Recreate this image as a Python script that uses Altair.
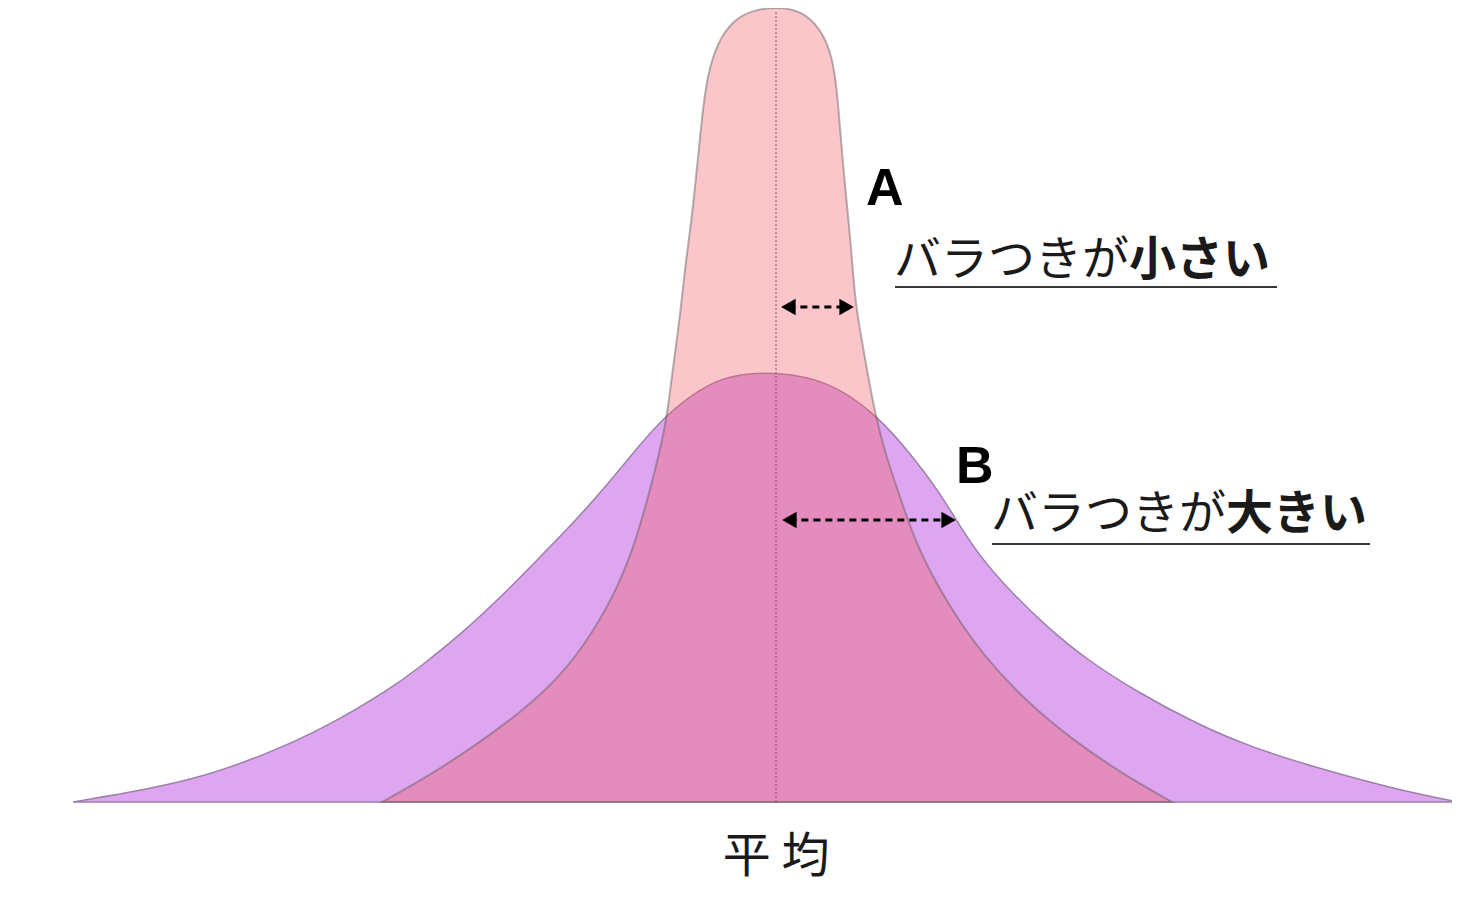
import altair as alt
import pandas as pd

# ---- data (x: offset from the mean, h: height above baseline) ----
# Curve B : large spread
b_x = [-703, -649, -583, -516, -449, -383, -356, -316, -276, -236, -203, -173, -143, -109,
       -66, -36, 0, 51, 99, 134, 164, 180, 204, 236, 271, 311, 363, 419, 474, 548, 623, 682]
b_h = [0, 9, 22, 45, 75, 115, 135, 167, 204, 245, 279, 312, 349, 389,
       420, 428, 430, 422, 389, 349, 309, 282, 245, 209, 175, 142, 109, 79, 55, 32, 12, 0]

# Curve A : small spread
a_x = [-394, -349, -303, -256, -216, -183, -156, -139, -126, -116, -109, -103, -96, -91,
       -84, -79, -74, -69, -59, -43, -23, 0, 24, 44, 57, 62, 67, 74, 79, 84, 91, 99,
       109, 124, 141, 171, 208, 252, 297, 345, 396]
a_h = [0, 25, 55, 89, 125, 169, 219, 265, 312, 352, 385, 435, 485, 535,
       585, 635, 685, 725, 759, 782, 792, 795, 792, 775, 745, 702, 635, 569, 502, 472, 432, 389,
       349, 305, 255, 199, 145, 99, 62, 29, 0]

mean_x = 0
mean_top = 792

# spread arrows: (from, to, height)
arrow_a = [4, 79, 495]
arrow_b = [5, 181, 282]

label_a = "A"
label_b = "B"
text_a = ["バラつきが", "小さい"]
text_b = ["バラつきが", "大きい"]
mean_label = "平 均"

# ---- scales: plot area mapped onto the page ----
OFFX, OFFY = 8, 8
W, H = 1444, 882
xs = alt.Scale(domain=[OFFX - 776, OFFX + W - 776], nice=False, zero=False)
ys = alt.Scale(domain=[802 - (OFFY + H), 802 - OFFY], nice=False, zero=False)

dfB = pd.DataFrame({"x": b_x, "h": b_h})
dfA = pd.DataFrame({"x": a_x, "h": a_h})

curveB = alt.Chart(dfB).mark_area(
    interpolate="basis", color="#dea6f0", stroke="#9a82a6", strokeWidth=1.5
).encode(
    x=alt.X("x:Q", scale=xs, axis=None),
    y=alt.Y("h:Q", scale=ys, axis=None),
    y2=alt.datum(0),
)

curveA = alt.Chart(dfA).mark_area(
    interpolate="basis", fill="#f45c65", fillOpacity=0.35,
    stroke="#5a5a5a", strokeOpacity=0.45, strokeWidth=2
).encode(
    x=alt.X("x:Q", scale=xs, axis=None),
    y=alt.Y("h:Q", scale=ys, axis=None),
    y2=alt.datum(0),
)

dfMean = pd.DataFrame({"x": [mean_x], "h0": [0], "h1": [mean_top]})
meanline = alt.Chart(dfMean).mark_rule(
    color="#8e4a63", strokeWidth=1, strokeDash=[2, 2]
).encode(
    x=alt.X("x:Q", scale=xs, axis=None),
    y=alt.Y("h0:Q", scale=ys, axis=None),
    y2="h1:Q",
)

HSIZE = 280
HEAD = HSIZE ** 0.5 / 2  # distance from head centre to tip (px)
dfArr = pd.DataFrame({
    "x0": [arrow_a[0], arrow_b[0]],
    "x1": [arrow_a[1], arrow_b[1]],
    "h": [arrow_a[2], arrow_b[2]],
})
dfArr["s0"] = dfArr["x0"] + HEAD
dfArr["s1"] = dfArr["x1"] - HEAD

shafts = alt.Chart(dfArr).mark_rule(
    color="#000000", strokeWidth=3, strokeDash=[7, 5]
).encode(
    x=alt.X("s0:Q", scale=xs, axis=None),
    x2="s1:Q",
    y=alt.Y("h:Q", scale=ys, axis=None),
)
headL = alt.Chart(dfArr).mark_point(
    shape="triangle-left", filled=True, color="#000000", size=HSIZE, opacity=1
).encode(
    x=alt.X("s0:Q", scale=xs, axis=None),
    y=alt.Y("h:Q", scale=ys, axis=None),
)
headR = alt.Chart(dfArr).mark_point(
    shape="triangle-right", filled=True, color="#000000", size=HSIZE, opacity=1
).encode(
    x=alt.X("s1:Q", scale=xs, axis=None),
    y=alt.Y("h:Q", scale=ys, axis=None),
)

JP = "Noto Sans CJK JP"
FS = 47


def txt(s, px, py, size, weight="normal", font=JP, align="left", color="#1a1a1a"):
    return alt.Chart(pd.DataFrame({"t": [s]})).mark_text(
        text=s, font=font, fontSize=size, fontWeight=weight, align=align,
        baseline="alphabetic", color=color
    ).encode(x=alt.value(px - OFFX), y=alt.value(py - OFFY))


def uline(px0, px1, py):
    return alt.Chart(pd.DataFrame({"t": [0]})).mark_rule(
        color="#3a3a3a", strokeWidth=2
    ).encode(x=alt.value(px0 - OFFX), x2=alt.value(px1 - OFFX), y=alt.value(py - OFFY))


texts = [
    txt(label_a, 866, 205, 52, "bold", "Liberation Sans", color="#000000"),
    txt(text_a[0], 894, 275, FS),
    txt(text_a[1], 894 + 5 * FS, 275, FS, "bold"),
    uline(895, 1277, 287),
    txt(label_b, 956, 483, 52, "bold", "Liberation Sans", color="#000000"),
    txt(text_b[0], 991, 529, FS),
    txt(text_b[1], 991 + 5 * FS, 529, FS, "bold"),
    uline(992, 1370, 544),
    txt(mean_label, 776, 872, 48, align="center"),
]

chart = alt.layer(curveB, curveA, meanline, shafts, headL, headR, *texts).properties(
    width=W, height=H, padding=0, autosize=alt.AutoSizeParams(type="none"),
    background="#ffffff",
).configure_view(stroke=None)

chart.save("out.html", embed_options={"renderer": "svg", "actions": False})
